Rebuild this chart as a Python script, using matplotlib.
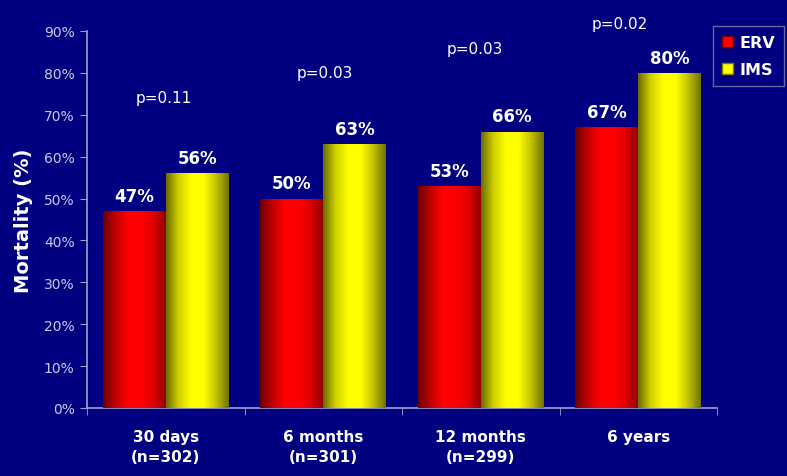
import numpy as np
import matplotlib
matplotlib.use("Agg")
import matplotlib.pyplot as plt
from matplotlib.colors import LinearSegmentedColormap
from matplotlib.patches import Patch

categories = ["30 days\n(n=302)", "6 months\n(n=301)", "12 months\n(n=299)", "6 years"]
erv = [47, 50, 53, 67]
ims = [56, 63, 66, 80]
series_names = ["ERV", "IMS"]
pvalues = ["p=0.11", "p=0.03", "p=0.03", "p=0.02"]
p_ypos = [74.2, 80.2, 85.9, 91.7]
p_xoff = [-0.01, 0.01, -0.04, -0.12]

bg = "#000080"
axis_col = "#A0A0D0"

fig = plt.figure(figsize=(7.87, 4.77), dpi=100, facecolor=bg)
ax = fig.add_axes([87/787, 1-409/477, (717-87)/787, (409-32)/477])
ax.set_facecolor(bg)

x = np.arange(len(categories))
w = 0.4
b1 = ax.bar(x - w/2, erv, w, color="#FF0000", zorder=2)
b2 = ax.bar(x + w/2, ims, w, color="#FFFF00", zorder=2)

red_cmap = LinearSegmentedColormap.from_list("r", ["#6A0000", "#C00000", "#FF0000", "#FF0000", "#E00000", "#900000"])
yel_cmap = LinearSegmentedColormap.from_list("y", ["#6A6A00", "#D0D000", "#FFFF00", "#FFFF00", "#C0C000", "#707000"])
grad = np.linspace(0, 1, 256).reshape(1, -1)
for bars, cmap in ((b1, red_cmap), (b2, yel_cmap)):
    for bar in bars:
        x0, y0 = bar.get_x(), bar.get_y()
        bw, bh = bar.get_width(), bar.get_height()
        im = ax.imshow(grad, cmap=cmap, aspect="auto", extent=[x0, x0 + bw, y0, y0 + bh], zorder=3)
        im.set_clip_path(bar)
        bar.set_facecolor("none")

for bars, vals in ((b1, erv), (b2, ims)):
    for bar, v in zip(bars, vals):
        ax.text(bar.get_x() + bar.get_width()/2, v + 1.5, f"{v}%", ha="center", va="bottom",
                color="white", fontweight="bold", fontsize=12, zorder=4)

for i, (p, py) in enumerate(zip(pvalues, p_ypos)):
    ax.text(i + p_xoff[i], py, p, ha="center", va="center", color="white", fontsize=11, clip_on=False)

ax.set_xlim(-0.5, len(categories) - 0.5)
ax.set_ylim(0, 90)
ax.set_yticks(np.arange(0, 91, 10))
ax.set_yticklabels([f"{t}%" for t in range(0, 91, 10)], color="#C8C8E8", fontsize=10)
ax.set_xticks(x)
ax.set_xticklabels(categories, color="white", fontweight="bold", fontsize=11, linespacing=1.45)
ax.set_xticks(np.arange(-0.5, len(categories)), minor=True)
ax.tick_params(axis="x", which="major", length=0, pad=15)
ax.tick_params(axis="x", which="minor", length=5, color=axis_col, direction="out")
ax.tick_params(axis="y", length=5, color=axis_col, direction="out", pad=4)
ax.set_xlim(-0.5, len(categories) - 0.5)

for s in ("top", "right"):
    ax.spines[s].set_visible(False)
for s in ("left", "bottom"):
    ax.spines[s].set_color(axis_col)
    ax.spines[s].set_linewidth(1.2)

ax.set_ylabel("Mortality (%)", color="white", fontweight="bold", fontsize=14, labelpad=8)

handles = [Patch(facecolor="#FF0000", edgecolor="#800000"), Patch(facecolor="#FFFF00", edgecolor="#808000")]
leg = fig.legend(handles, series_names, loc="upper left", bbox_to_anchor=(713/787, 1-27/477),
                 frameon=True, facecolor=bg, edgecolor="#8080A0", fancybox=False,
                 handlelength=0.7, handleheight=0.7, handletextpad=0.4, borderpad=0.55,
                 borderaxespad=0, labelspacing=0.75, prop={"weight": "bold", "size": 11.5})
for t in leg.get_texts():
    t.set_color("white")

fig.savefig("out.png", dpi=100, facecolor=bg)
